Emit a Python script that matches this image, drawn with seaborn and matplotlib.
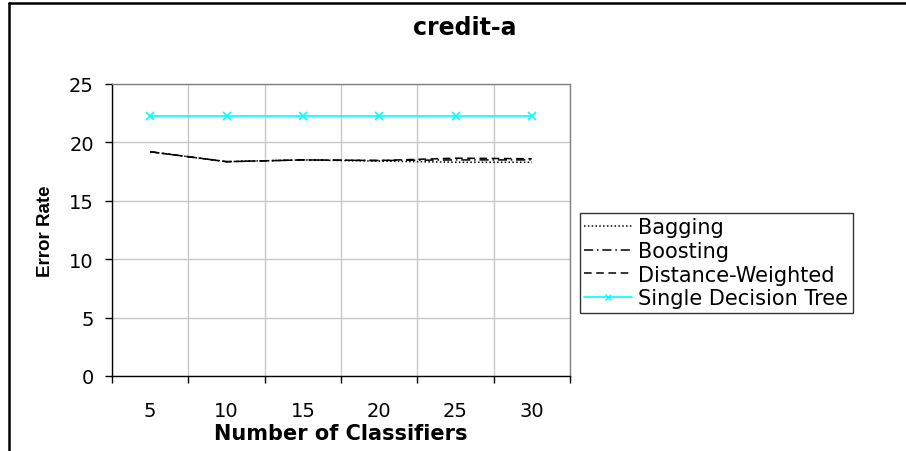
import matplotlib
matplotlib.use("Agg")
import matplotlib.pyplot as plt
from matplotlib.lines import Line2D
import seaborn as sns
import pandas as pd
import numpy as np

classifiers = ["5", "10", "15", "20", "25", "30"]
bagging = [19.2, 18.35, 18.5, 18.4, 18.3, 18.3]
boosting = [19.2, 18.35, 18.5, 18.45, 18.5, 18.5]
distance_weighted = [19.2, 18.35, 18.5, 18.45, 18.65, 18.6]
single_tree = [22.3, 22.3, 22.3, 22.3, 22.3, 22.3]

series_names = ["Bagging", "Boosting", "Distance-Weighted", "Single Decision Tree"]
series_values = [bagging, boosting, distance_weighted, single_tree]

sns.set_theme(style="white")
plt.rcParams["font.family"] = ["DejaVu Sans"]
for key in ["text.color", "axes.labelcolor", "xtick.color", "ytick.color"]:
    plt.rcParams[key] = "black"

fig = plt.figure(figsize=(9.06, 4.52), dpi=100)
ax = fig.add_axes([112 / 906, 1 - 377 / 452, (570 - 112) / 906, (377 - 85) / 452])

rows = []
for name, vals in zip(series_names, series_values):
    for i, v in enumerate(vals):
        rows.append({"pos": i, "label": classifiers[i], "series": name, "value": v})
df = pd.DataFrame(rows)

styles = {
    "Bagging": dict(color="black", linestyle=(0, (1, 1.5)), lw=1.1, marker=None),
    "Boosting": dict(color="black", linestyle=(0, (6, 2.5, 1, 2.5)), lw=1.1, marker=None),
    "Distance-Weighted": dict(color="black", linestyle=(0, (5, 3)), lw=1.1, marker=None),
    "Single Decision Tree": dict(color="#00FFFF", linestyle="-", lw=1.2, marker="x"),
}

for name in series_names:
    st = styles[name]
    sub = df[df["series"] == name]
    sns.lineplot(data=sub, x="pos", y="value", ax=ax, color=st["color"],
                 linestyle=st["linestyle"], linewidth=st["lw"], marker=st["marker"],
                 markersize=5.5, markeredgewidth=1.2, markeredgecolor=st["color"],
                 label=name, legend=False)

ax.set_xlim(-0.5, 5.5)
ax.set_ylim(0, 25)
ax.set_yticks(np.arange(0, 26, 5))
ax.set_xticks(range(len(classifiers)))
ax.set_xticklabels(classifiers)
ax.set_xticks(np.arange(-0.5, 5.6, 1), minor=True)

ax.grid(True, axis="y", which="major", color="#c8c8c8", lw=1)
ax.grid(True, axis="x", which="minor", color="#c8c8c8", lw=1)
ax.grid(False, axis="x", which="major")
ax.set_axisbelow(True)

ax.tick_params(axis="x", which="major", length=0, pad=18, labelsize=14)
ax.tick_params(axis="x", which="minor", length=5, width=1, color="black", direction="out", bottom=True)
ax.tick_params(axis="y", which="major", length=5, width=1, color="black", direction="out",
               left=True, pad=8, labelsize=14)

for side in ["left", "bottom"]:
    ax.spines[side].set_color("black")
    ax.spines[side].set_linewidth(1)
for side in ["top", "right"]:
    ax.spines[side].set_color("#808080")
    ax.spines[side].set_linewidth(1)

ax.set_xlabel("Number of Classifiers", fontsize=15, fontweight="bold", labelpad=2)
ax.set_ylabel("Error Rate", fontsize=13.5, fontweight="bold", labelpad=11,
              family=["Liberation Sans", "DejaVu Sans"])

fig.text(465 / 906, 1 - 28 / 452, "credit-a", ha="center", va="center",
         fontsize=17, fontweight="bold")

handles = []
for name in series_names:
    st = styles[name]
    handles.append(Line2D([], [], color=st["color"], linestyle=st["linestyle"], lw=st["lw"],
                          marker=st["marker"], markersize=4, markeredgewidth=1))
leg = fig.legend(handles, series_names, loc="upper left",
                 bbox_to_anchor=(580 / 906, 1 - 214 / 452), bbox_transform=fig.transFigure,
                 fontsize=15, frameon=True, fancybox=False, borderpad=0.2,
                 handlelength=2.3, handletextpad=0.3, labelspacing=0.18, borderaxespad=0)
leg.get_frame().set_edgecolor("black")
leg.get_frame().set_linewidth(1)

# outer chart frame
fig.add_artist(Line2D([9 / 906, 1.0], [1 - 4 / 452, 1 - 4 / 452], transform=fig.transFigure,
                      color="black", lw=1.8))
fig.add_artist(Line2D([9 / 906, 9 / 906], [0, 1 - 4 / 452], transform=fig.transFigure,
                      color="black", lw=1.8))

fig.savefig("out.png", dpi=100, facecolor="white")
